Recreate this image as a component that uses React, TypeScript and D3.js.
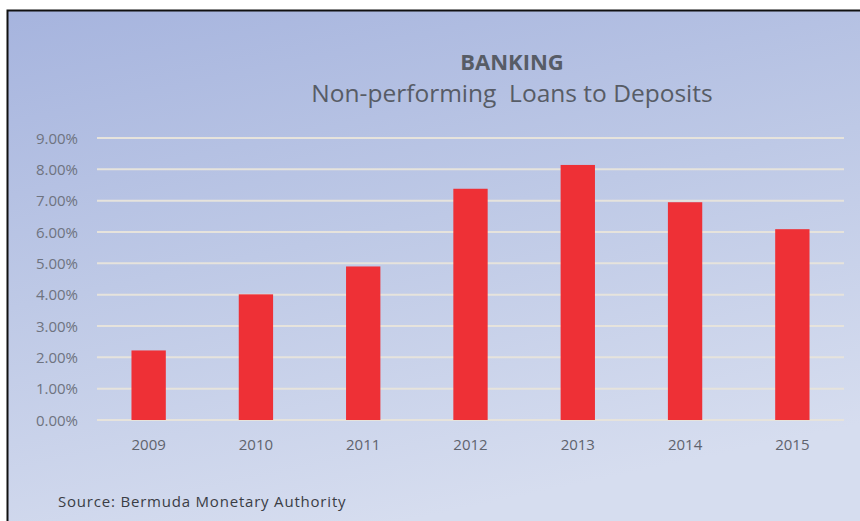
import React from "react";
import * as d3 from "d3";

const years = ["2009", "2010", "2011", "2012", "2013", "2014", "2015"];
const ratios = [2.22, 4.01, 4.9, 7.38, 8.14, 6.95, 6.09];
const yTicks = [0, 1, 2, 3, 4, 5, 6, 7, 8, 9];
const title = "BANKING";
const subtitle = "Non-performing\u00a0 Loans to Deposits";
const source = "Source: Bermuda Monetary Authority";

const W = 860;
const H = 521;
const plot = { left: 95, right: 846, top: 138, bottom: 420 };

export default function App() {
  const x = d3
    .scaleBand<string>()
    .domain(years)
    .range([plot.left, plot.right])
    .paddingInner(0.68)
    .paddingOuter(0.34);
  const y = d3.scaleLinear().domain([0, 9]).range([plot.bottom, plot.top]);
  const fmt = (v: number) => v.toFixed(2) + "%";

  return (
    <svg
      width={W}
      height={H}
      style={{ position: "absolute", left: 0, top: 0 }}
      fontFamily="'Open Sans', sans-serif"
    >
      <defs>
        <linearGradient id="bg" x1="0" y1="0" x2="0.35" y2="1">
          <stop offset="0" stopColor="#a6b4de" />
          <stop offset="0.5" stopColor="#bec9e6" />
          <stop offset="1" stopColor="#d6ddef" />
        </linearGradient>
      </defs>
      <rect x={0} y={0} width={W} height={H} fill="#ffffff" />
      <rect x={7.5} y={10.5} width={W + 10} height={H + 10} fill="url(#bg)" stroke="#111" strokeWidth={2} />
      <text x={512} y={70} textAnchor="middle" fontSize={22} fontWeight="bold" fill="#575c66">
        {title}
      </text>
      <text x={512} y={102} textAnchor="middle" fontSize={24.5} fill="#575c66">
        {subtitle}
      </text>
      {yTicks.map((t) => (
        <g key={t}>
          <line
            x1={plot.left + 2}
            x2={plot.right - 2}
            y1={y(t)}
            y2={y(t)}
            stroke="#e6e3dc"
            strokeWidth={2}
          />
          <text x={78} y={y(t) + 5.5} textAnchor="end" fontSize={15} fill="#6e7380">
            {fmt(t)}
          </text>
        </g>
      ))}
      {years.map((yr, i) => (
        <rect
          key={yr}
          x={x(yr)}
          y={y(ratios[i])}
          width={x.bandwidth()}
          height={y(0) - y(ratios[i])}
          fill="#ee3036"
        />
      ))}
      {years.map((yr) => (
        <text
          key={yr}
          x={(x(yr) as number) + x.bandwidth() / 2}
          y={450}
          textAnchor="middle"
          fontSize={15}
          fill="#5f636d"
        >
          {yr}
        </text>
      ))}
      <text x={58} y={507} fontSize={15} letterSpacing={0.8} fill="#3a3d45">
        {source}
      </text>
    </svg>
  );
}
